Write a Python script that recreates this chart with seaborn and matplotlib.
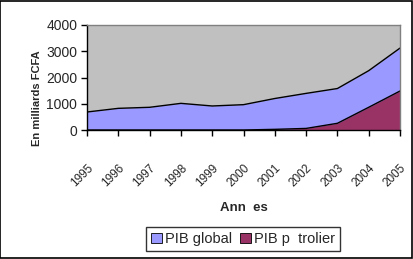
import matplotlib
matplotlib.use("Agg")
import matplotlib.pyplot as plt
import seaborn as sns
import pandas as pd
import numpy as np

years = [1995, 1996, 1997, 1998, 1999, 2000, 2001, 2002, 2003, 2004, 2005]
pib_global = [686, 825, 865, 1015, 915, 965, 1200, 1395, 1580, 2260, 3120]
pib_petrolier = [0, 0, 0, 0, 0, 0, 25, 60, 255, 865, 1485]
year_labels = [str(y) for y in years]
y_ticks = [0, 1000, 2000, 3000, 4000]

sns.set_theme(style="white")
plt.rcParams['font.family'] = ['Liberation Sans', 'DejaVu Sans']

df = pd.DataFrame({"year": years, "global": pib_global, "petrolier": pib_petrolier})

fig = plt.figure(figsize=(4.13, 2.59), dpi=100)
fig.patch.set_facecolor("white")
ax = fig.add_axes([87/413, 1-130/259, (400-87)/413, (130-25)/259])
ax.set_facecolor("#C0C0C0")

c_glob = "#9999FF"
c_pet = "#993366"
ax.fill_between(df["year"], 0, df["global"], color=c_glob, lw=0, label="PIB global")
sns.lineplot(data=df, x="year", y="global", ax=ax, color="black", lw=1.0, legend=False)
ax.fill_between(df["year"], 0, df["petrolier"], color=c_pet, lw=0, label="PIB p  trolier")
sns.lineplot(data=df, x="year", y="petrolier", ax=ax, color="black", lw=1.0, legend=False)

ax.set_xlim(years[0], years[-1])
ax.set_ylim(0, 4000)
ax.set_xticks(years)
ax.set_xticklabels(year_labels, rotation=45, ha="right", rotation_mode="anchor", fontsize=8.5)
ax.set_yticks(y_ticks)
ax.set_yticklabels([str(v) for v in y_ticks], fontsize=10)
ax.tick_params(axis="x", direction="out", length=4, width=1, color="black", pad=19)
ax.tick_params(axis="y", direction="out", length=4, width=1, color="black", pad=3)
ax.tick_params(bottom=True, left=True)

for s in ["left", "bottom"]:
    ax.spines[s].set_color("black")
    ax.spines[s].set_linewidth(1)
for s in ["top", "right"]:
    ax.spines[s].set_color("#808080")
    ax.spines[s].set_linewidth(1)

ax.set_xlabel("Ann  es", fontsize=9.5, fontweight="bold", labelpad=9)
ax.set_ylabel("En milliards FCFA", fontsize=8, fontweight="bold")
ax.yaxis.set_label_coords((42-87)/313, (130-98)/105)

leg = fig.legend(loc="center", bbox_to_anchor=(243/413, 1-239/259), ncol=2,
                 fontsize=10.5, frameon=True, fancybox=False, edgecolor="black",
                 handlelength=0.75, handleheight=0.75, handletextpad=0.2,
                 columnspacing=0.6, borderpad=0.35)
leg.get_frame().set_linewidth(1)
for h in leg.legend_handles:
    h.set_edgecolor("black")
    h.set_linewidth(0.6)

fig.add_artist(plt.Rectangle((0.001, 0.002), 0.997, 0.996, transform=fig.transFigure,
                             fill=False, edgecolor="black", lw=1.2))

fig.savefig("out.png", dpi=100, facecolor="white")
